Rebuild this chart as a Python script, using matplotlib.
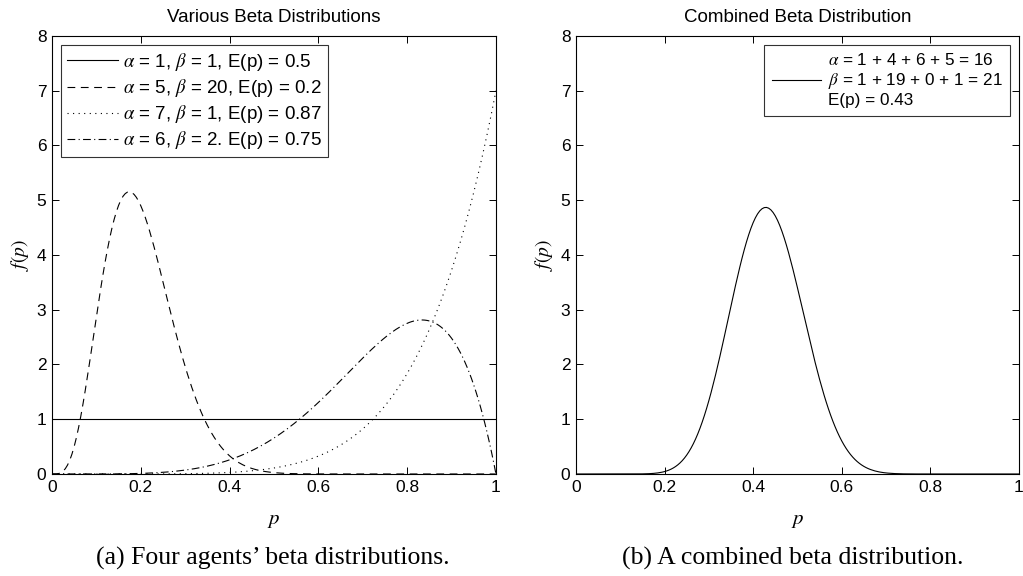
import math
import numpy as np
import matplotlib
matplotlib.use("Agg")
import matplotlib.pyplot as plt

# Beta distribution parameters for the four agents
agent_alpha = [1, 5, 7, 6]
agent_beta = [1, 20, 1, 2]
agent_mean_labels = ["0.5", "0.2", "0.87", "0.75"]
agent_sep = [",", ",", ",", "."]
agent_styles = ["-", (0, (7, 5)), (0, (1, 4)), (0, (7, 3, 1, 3))]

# Combined distribution: per-agent evidence summed up
alpha_terms = [1, 4, 6, 5]
beta_terms = [1, 19, 0, 1]
combined_alpha = sum(alpha_terms)
combined_beta = sum(beta_terms)
combined_mean_label = "0.43"

x_ticks = [0, 0.2, 0.4, 0.6, 0.8, 1]
x_tick_labels = ["0", "0.2", "0.4", "0.6", "0.8", "1"]
y_ticks = [0, 1, 2, 3, 4, 5, 6, 7, 8]


def beta_pdf(p, a, b):
    norm = math.gamma(a + b) / (math.gamma(a) * math.gamma(b))
    return norm * p ** (a - 1) * (1 - p) ** (b - 1)


plt.rcParams["font.family"] = ["Liberation Sans", "DejaVu Sans"]
plt.rcParams["mathtext.fontset"] = "stix"

fig = plt.figure(figsize=(10.23, 5.76), dpi=100)
ax1 = fig.add_axes([0.0508, 0.1771, 0.434, 0.7604])
ax2 = fig.add_axes([0.563, 0.1771, 0.433, 0.7604])

p = np.linspace(0, 1, 201)

for a, b, m, sep, ls in zip(agent_alpha, agent_beta, agent_mean_labels,
                            agent_sep, agent_styles):
    label = rf"$\alpha$ = {a}, $\beta$ = {b}{sep} E(p) = {m}"
    ax1.plot(p, beta_pdf(p, a, b), color="black", lw=0.8, linestyle=ls,
             label=label)

comb_label = (rf"$\alpha$ = {' + '.join(str(v) for v in alpha_terms)} = {combined_alpha}"
              "\n"
              rf"$\beta$ = {' + '.join(str(v) for v in beta_terms)} = {combined_beta}"
              "\n"
              f"E(p) = {combined_mean_label}")
ax2.plot(p, beta_pdf(p, combined_alpha, combined_beta), color="black",
         lw=0.8, label=comb_label)

for ax, title in [(ax1, "Various Beta Distributions"),
                  (ax2, "Combined Beta Distribution")]:
    ax.set_xlim(0, 1)
    ax.set_ylim(0, 8)
    ax.set_xticks(x_ticks)
    ax.set_xticklabels(x_tick_labels)
    ax.set_yticks(y_ticks)
    ax.tick_params(direction="in", top=True, right=True, labelsize=12.5,
                   length=5, width=0.7, pad=4)
    for s in ax.spines.values():
        s.set_linewidth(0.8)
    ax.set_title(title, fontsize=13.5, pad=10)
    ax.set_xlabel("$p$", fontsize=15, labelpad=12)
    ax.set_ylabel("$f(p)$", fontsize=14, labelpad=4)

leg1 = ax1.legend(loc="upper left", fontsize=13.5, frameon=True, fancybox=False,
                  edgecolor="black", handlelength=2.7, borderaxespad=0.5,
                  labelspacing=0.22, handletextpad=0.3, borderpad=0.3)
leg1.get_frame().set_linewidth(0.8)

leg2 = ax2.legend(loc="upper right", fontsize=12.3, frameon=True, fancybox=False,
                  edgecolor="black", handlelength=2.9, borderaxespad=0.5,
                  handletextpad=0.4, borderpad=0.45)
leg2.get_frame().set_linewidth(0.8)

fig.text(0.267, 0.031, "(a) Four agents\u2019 beta distributions.",
         family="Liberation Serif", fontsize=18.5, ha="center", va="center")
fig.text(0.775, 0.031, "(b) A combined beta distribution.",
         family="Liberation Serif", fontsize=18.5, ha="center", va="center")

fig.savefig("out.png", dpi=100)
